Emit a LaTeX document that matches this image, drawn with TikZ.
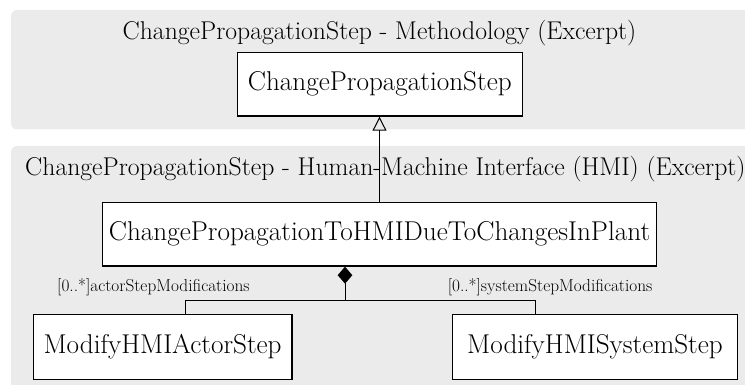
\documentclass[tikz,border=0pt]{standalone}
\usetikzlibrary{arrows.meta}
\definecolor{panelgray}{HTML}{EBEBEB}
\tikzset{
  panel/.style={fill=panelgray, draw=none, rounded corners=6pt},
  classbox/.style={draw=black, line width=1.3pt, fill=white, inner sep=0pt, minimum height=63.7pt, font=\fontsize{27.2}{32}\selectfont},
  paneltitle/.style={inner sep=0pt, font=\fontsize{25.7}{30}\selectfont},
  rolelabel/.style={inner sep=0pt, font=\fontsize{17.3}{20}\selectfont},
  conn/.style={draw=black, line width=1pt},
  gen/.style={conn, -{Triangle[open, length=14pt, width=14pt, line width=1pt]}},
  comp/.style={conn, {Diamond[length=17pt, width=14.6pt]}-}
}
\begin{document}
\begin{tikzpicture}[x=1pt,y=-1pt]
\useasboundingbox (0,0) rectangle (745,385);
% panels
\path[panel] (11,10) rectangle (760,129.5);
\path[panel] (11,146) rectangle (760,400);
% titles
\node[paneltitle, anchor=base] (t1) at (379.5,40) {ChangePropagationStep - Methodology (Excerpt)};
\node[paneltitle, anchor=base west] (t2) at (25,176) {ChangePropagationStep - Human-Machine Interface (HMI) (Excerpt)};
% classes
\node[classbox, minimum width=285pt] (cps) at (379.8,84.2) {ChangePropagationStep};
\node[classbox, minimum width=554.4pt] (cpt) at (379.5,234.2) {ChangePropagationToHMIDueToChangesInPlant};
\node[classbox, minimum width=258.7pt, minimum height=65pt] (actor) at (162.6,346.8) {ModifyHMIActorStep};
\node[classbox, minimum width=285.4pt, minimum height=65pt] (sys) at (595,346.8) {ModifyHMISystemStep};
% generalization
\draw[gen] (cpt.north) -- (cpt.north |- cps.south);
% composition
\coordinate (junc) at (345,300);
\coordinate (aL) at (185.8,300);
\coordinate (sR) at (535.2,300);
\draw[comp] (junc |- cpt.south) -- (junc);
\draw[conn] (aL) -- (sR);
\draw[conn] (aL) -- (aL |- actor.north);
\draw[conn] (sR) -- (sR |- sys.north);
% role labels
\node[rolelabel, anchor=base west] (l1) at (57,291) {[0..*]actorStepModifications};
\node[rolelabel, anchor=base west] (l2) at (447.6,291) {[0..*]systemStepModifications};
\end{tikzpicture}
\end{document}
